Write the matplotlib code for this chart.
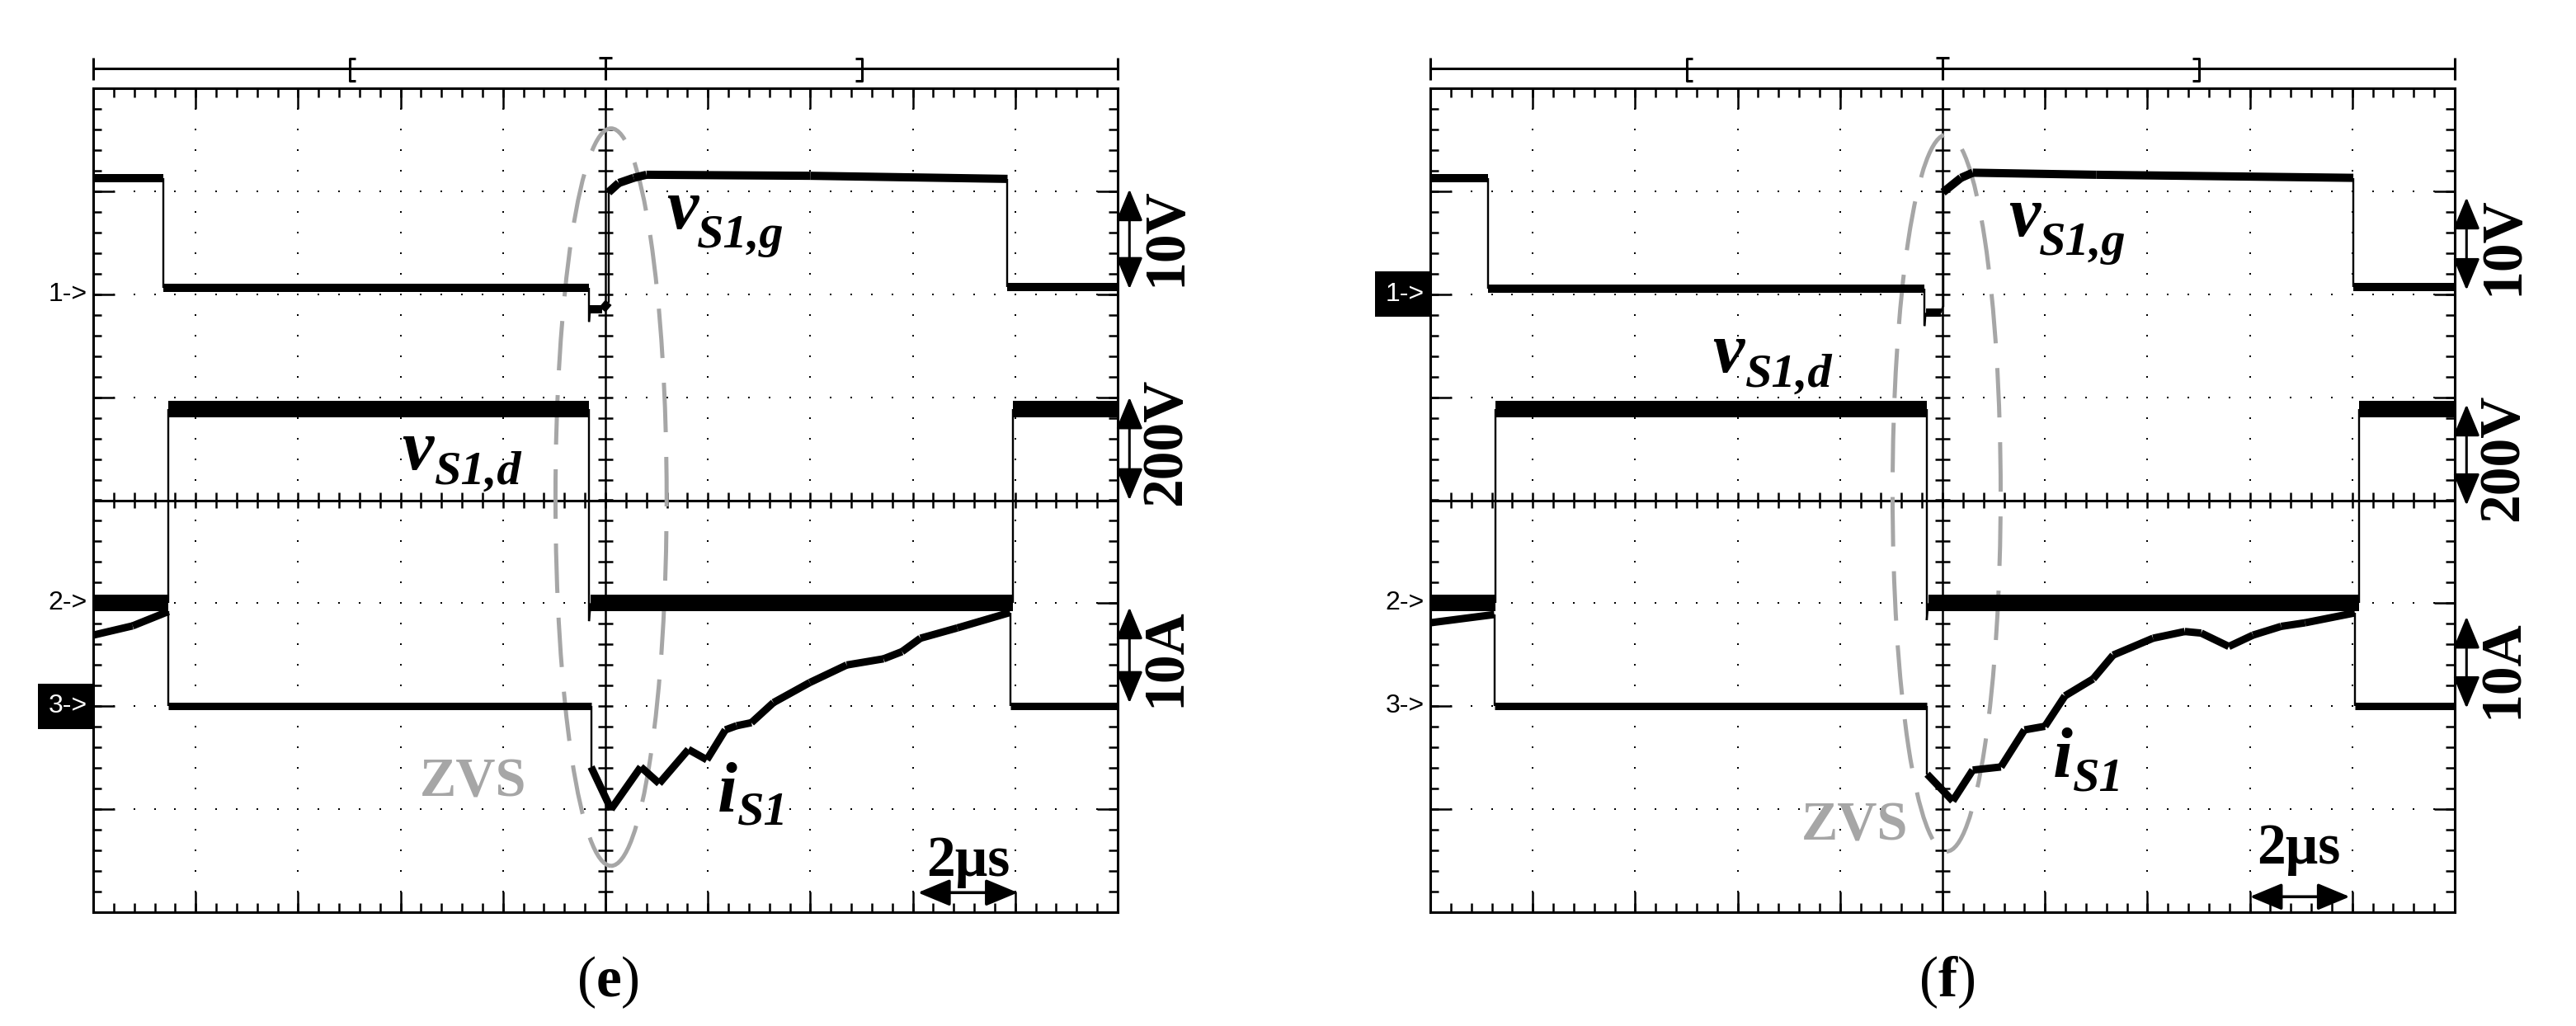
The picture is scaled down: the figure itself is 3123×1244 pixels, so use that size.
import numpy as np
import matplotlib.pyplot as plt
from matplotlib.collections import LineCollection
from matplotlib.patches import Ellipse, Rectangle, FancyArrowPatch

plt.rcParams['mathtext.fontset'] = 'custom'
plt.rcParams['mathtext.rm'] = 'Liberation Serif'
plt.rcParams['mathtext.bf'] = 'Liberation Serif:bold'

# scope settings: 2 us/div, channel scales and ground markers (in divisions)
time_per_div = 2
ch_scale = {'g': 10, 'd': 200, 'i': 10}
ch_offset = {'g': 2, 'd': -1, 'i': -2}
scale_labels = ['10V', '200V', '10A']
panel_names = ['e', 'f']

# ---- panel (e) traces, time in us ----
e_gate_t = [0, 1.37, 1.37, 9.68, 9.68, 9.70, 9.94, 10.06, 10.06, 10.26, 10.55, 10.8, 14.0, 17.85, 17.85, 20]
e_gate_v = [11.3, 11.3, 0.6, 0.6, -2.7, -1.5, -1.5, -0.8, 9.9, 10.8, 11.3, 11.6, 11.5, 11.2, 0.7, 0.7]
e_drain_t = [0, 1.47, 1.47, 9.68, 9.68, 9.71, 17.95, 17.95, 20]
e_drain_v = [0, 0, 377, 377, -35, 0, 0, 377, 377]
e_cur_t = [0, 0.77, 1.47, 1.47, 9.72, 9.72, 10.11, 10.69, 11.05, 11.62, 11.98, 12.34, 12.56, 12.85,
           13.28, 13.99, 14.71, 15.43, 15.79, 16.15, 16.87, 17.90, 17.90, 20]
e_cur_i = [6.9, 7.8, 9.2, 0, 0, -5.9, -10.0, -5.9, -7.5, -4.2, -5.2, -2.3, -1.9, -1.6,
           0.35, 2.3, 4.0, 4.6, 5.3, 6.6, 7.6, 9.1, 0, 0]

# ---- panel (f) traces ----
f_gate_t = [0, 1.13, 1.13, 9.65, 9.65, 9.67, 9.96, 10.01, 10.01, 10.36, 10.59, 13.0, 18.02, 18.02, 20]
f_gate_v = [11.3, 11.3, 0.56, 0.56, -3.1, -1.8, -1.8, -1.2, 9.9, 11.3, 11.8, 11.6, 11.3, 0.7, 0.7]
f_drain_t = [0, 1.28, 1.28, 9.69, 9.69, 9.72, 18.13, 18.13, 20]
f_drain_v = [0, 0, 377, 377, -33, 0, 0, 377, 377]
f_cur_t = [0, 1.25, 1.25, 9.70, 9.70, 10.20, 10.59, 11.14, 11.60, 12.00, 12.39, 12.94, 13.33,
           14.11, 14.73, 15.05, 15.59, 16.06, 16.61, 17.08, 18.05, 18.05, 20]
f_cur_i = [8.1, 8.9, 0, 0, -6.6, -9.2, -6.2, -5.9, -2.3, -1.95, 1.0, 2.65, 4.96,
           6.6, 7.25, 7.1, 5.8, 6.9, 7.75, 8.1, 9.06, 0, 0]

W, H = 3123, 1244
PX = 0.72          # points per pixel at dpi 100
XPX = 62.1         # pixels per us
YPX = 124.9        # pixels per division
GRAY = '#a6a6a6'
SERIF = 'Liberation Serif'
NARROW = ['Liberation Sans Narrow', 'Liberation Sans', 'DejaVu Sans']

layout = {
    'e': dict(left=113, hilite='i', ell=(10.11, 0.03, 2.17, 7.16),
              zvs=(7.41, -2.74), vg=(11.19, 2.64), vd=(6.02, 0.30), isl=(12.19, -3.02),
              us=(17.09, -3.65), us_arrow=(16.1, 18.05, -3.81),
              scales=[(2.56, 2.05, 3.02), (0.57, 0.0, 1.0), (-1.53, -1.97, -1.04)],
              label_x=737),
    'f': dict(left=1734, hilite='g', ell=(10.08, 0.07, 2.11, 6.96),
              zvs=(8.28, -3.17), vg=(11.29, 2.57), vd=(5.51, 1.245), isl=(12.16, -2.69),
              us=(16.96, -3.53), us_arrow=(16.0, 17.95, -3.85),
              scales=[(2.47, 2.04, 2.94), (0.41, -0.05, 0.93), (-1.64, -2.02, -1.13)],
              label_x=2360),
}


def graticule(ax):
    ax.set_xlim(0, 20)
    ax.set_ylim(-4, 4)
    ax.set_xticks([])
    ax.set_yticks([])
    for s in ax.spines.values():
        s.set_linewidth(2.2)
    k = dict(colors='black', linewidth=1.8, zorder=2)
    minor_x = np.arange(0.4, 19.9, 0.4)
    major_x = np.arange(2, 19, 2)
    minor_y = np.arange(-3.8, 3.9, 0.2)
    major_y = np.array([-3, -2, -1, 1, 2, 3])
    # border ticks
    ax.vlines(minor_x, 4 - 11 / YPX, 4, **k)
    ax.vlines(major_x, 4 - 25 / YPX, 4, **k)
    ax.vlines(minor_x, -4, -4 + 11 / YPX, **k)
    ax.vlines(major_x, -4, -4 + 25 / YPX, **k)
    ax.hlines(minor_y, 0, 10 / XPX, **k)
    ax.hlines(major_y, 0, 26 / XPX, **k)
    ax.hlines(minor_y, 20 - 11 / XPX, 20, **k)
    ax.hlines(major_y, 20 - 25 / XPX, 20, **k)
    # centre cross with ticks
    ax.vlines(10, -4, 4, colors='black', linewidth=1.8, zorder=2)
    ax.hlines(0, 0, 20, colors='black', linewidth=2.2, zorder=2)
    ax.hlines(minor_y, 10 - 9 / XPX, 10 + 9 / XPX, **k)
    ax.vlines(minor_x, -10 / YPX, 10 / YPX, **k)
    # dotted graticule
    dx, dy = np.meshgrid(major_x[major_x != 10], minor_y)
    ax.plot(dx.ravel(), dy.ravel(), 's', color='black', ms=2.0, mew=0, zorder=2)
    gx, gy = np.meshgrid(minor_x, major_y)
    ax.plot(gx.ravel(), gy.ravel(), 's', color='black', ms=2.0, mew=0, zorder=2)
    # record bar on top
    by, lo, hi = 4 + 24 / YPX, 4 + 10 / YPX, 4 + 37 / YPX
    lk = dict(color='black', lw=2.2, clip_on=False, solid_capstyle='butt')
    ax.plot([0, 20], [by, by], **lk)
    ax.vlines([0, 20, 10], lo, hi, colors='black', linewidth=2.2, clip_on=False)
    ax.plot([10 - 0.13, 10 + 0.13], [hi, hi], **lk)
    ax.plot([5.12, 5, 5, 5.12], [hi - 0.01, hi - 0.01, lo - 0.01, lo - 0.01], **lk)
    ax.plot([14.88, 15, 15, 14.88], [hi - 0.01, hi - 0.01, lo - 0.01, lo - 0.01], **lk)


def draw_trace(ax, t, v, ch, band_px):
    t = np.asarray(t, float)
    y = ch_offset[ch] + np.asarray(v, float) / ch_scale[ch]
    pts = np.column_stack([t, y])
    segs = np.stack([pts[:-1], pts[1:]], axis=1)
    widths = np.where(np.diff(t) < 0.05, 2.4 * PX, band_px * PX)
    ax.add_collection(LineCollection(segs, linewidths=widths, colors='black',
                                     capstyle='butt', zorder=4))


def dbl_arrow(ax, p0, p1, lw):
    ax.add_patch(FancyArrowPatch(p0, p1, arrowstyle='<|-|>,head_length=1.2,head_width=0.5',
                                 mutation_scale=20, lw=lw, color='black', shrinkA=0, shrinkB=0,
                                 clip_on=False, zorder=5))


def sym(ax, xy, main, sub, sub_dx, sub_dy):
    # italic symbol with subscript, offsets in pixels
    ax.text(*xy, main, fontsize=62, family=SERIF, style='italic', weight='bold',
            ha='left', va='baseline', zorder=6)
    ax.annotate(sub, xy=xy, xytext=(sub_dx * PX, sub_dy * PX), textcoords='offset points',
                fontsize=42, family=SERIF, style='italic', weight='bold',
                ha='left', va='baseline', zorder=6)


fig = plt.figure(figsize=(W / 100, H / 100), dpi=100)
traces = {
    'e': [(e_gate_t, e_gate_v, 'g', 10), (e_drain_t, e_drain_v, 'd', 20), (e_cur_t, e_cur_i, 'i', 9)],
    'f': [(f_gate_t, f_gate_v, 'g', 10), (f_drain_t, f_drain_v, 'd', 20), (f_cur_t, f_cur_i, 'i', 9)],
}

for name in panel_names:
    L = layout[name]
    ax = fig.add_axes([L['left'] / W, 1 - 1106 / H, 1242 / W, 999 / H])
    graticule(ax)

    cx, cy, ew, eh = L['ell']
    ax.add_patch(Ellipse((cx, cy), ew, eh, fill=False, edgecolor=GRAY, lw=5 * PX,
                         linestyle=(0, (12, 6)), zorder=3, clip_on=False))

    for t, v, ch, band in traces[name]:
        draw_trace(ax, t, v, ch, band)

    # channel ground markers
    for num, ch in zip(['1', '2', '3'], ['g', 'd', 'i']):
        yy = ch_offset[ch]
        col = 'black'
        if ch == L['hilite']:
            ax.add_patch(Rectangle((-1.08, yy - 0.22), 1.08, 0.44, facecolor='black',
                                   edgecolor='none', clip_on=False, zorder=5))
            col = 'white'
        ax.text(-0.12, yy, num + '->', ha='right', va='center', fontsize=23,
                family=NARROW, color=col, zorder=6)

    # volts/div labels on the right
    for lab, (ty, a0, a1) in zip(scale_labels, L['scales']):
        dbl_arrow(ax, (20.23, a0), (20.23, a1), 2.2)
        ax.text(20.95, ty, lab, rotation=90, ha='center', va='center', fontsize=50,
                family=SERIF, weight='bold')

    ax.text(*L['zvs'], 'ZVS', color=GRAY, fontsize=48, family=SERIF, weight='bold',
            ha='center', va='center', zorder=6)
    sym(ax, L['vg'], 'v', 'S1,g', 37, -23)
    sym(ax, L['vd'], 'v', 'S1,d', 40, -18)
    sym(ax, L['isl'], 'i', 'S1', 24, -16)

    ux, uy = L['us']
    ax.text(ux, uy, '2μs', fontsize=50, family=SERIF, weight='bold', ha='center',
            va='baseline', zorder=6)
    a0, a1, ay = L['us_arrow']
    dbl_arrow(ax, (a0, ay), (a1, ay), 2.6)

    fig.text(L['label_x'] / W, 1 - 1191 / H, '(' + r'$\mathbf{' + name + '}$' + ')',
             fontsize=50, family=SERIF, ha='center', va='center')

fig.savefig('out.png', dpi=100)
